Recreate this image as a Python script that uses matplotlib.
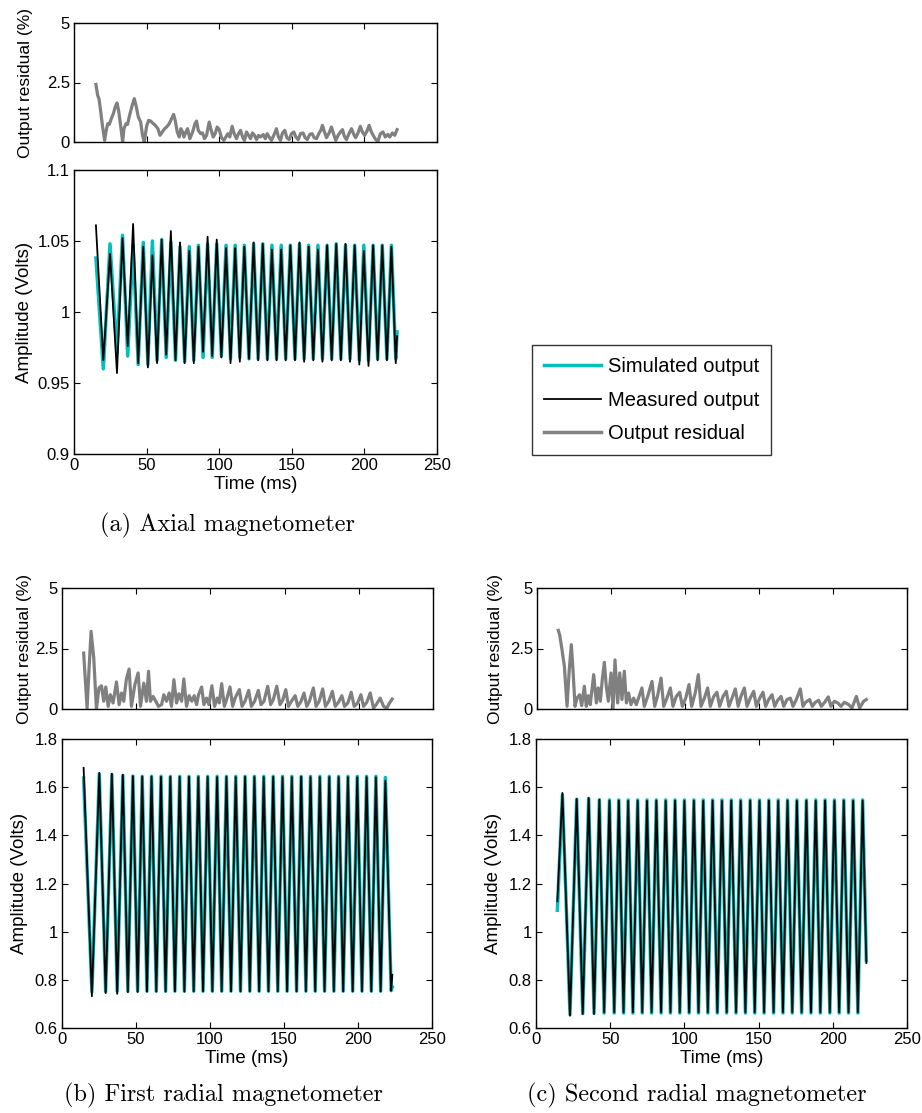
import matplotlib
matplotlib.use('Agg')
import matplotlib.pyplot as plt
from matplotlib.lines import Line2D

plt.rcParams['font.family'] = ['Liberation Sans', 'DejaVu Sans']

CYAN = '#00bfbf'
GRAY = '#808080'

# ---- (a) axial magnetometer: extrema of the amplitude traces
a_t = [15.1, 20.2, 24.8, 29.6, 33.4, 37.0, 40.7, 44.2,
       47.7, 50.9, 54.0, 57.2, 60.4, 63.5, 66.7, 69.9, 73.0, 76.2, 79.4, 82.5, 85.7, 88.9,
       92.0, 95.2, 98.3, 101.5, 104.7, 107.8, 111.0, 114.2, 117.3, 120.5, 123.7, 126.8, 130.0,
       133.2, 136.3, 139.5, 142.7, 145.8, 149.0, 152.2, 155.3, 158.5, 161.6, 164.8, 168.0,
       171.1, 174.3, 177.5, 180.6, 183.8, 187.0, 190.1, 193.3, 196.5, 199.6, 202.8, 206.0,
       209.1, 212.3, 215.5, 218.6,
       221.6, 222.5]
a_meas = [1.061, 0.966, 1.041, 0.957, 1.052, 0.976, 1.062, 0.964,
          1.046, 0.961, 1.040, 0.964, 1.051, 0.970, 1.057, 0.966, 1.049, 0.964, 1.043, 0.964,
          1.046, 0.972, 1.053, 0.969, 1.051, 0.968, 1.045, 0.964, 1.045, 0.965, 1.046, 0.967,
          1.049, 0.966, 1.048, 0.966, 1.044, 0.966, 1.044, 0.966, 1.047, 0.966, 1.049, 0.965,
          1.046, 0.966, 1.044, 0.965, 1.047, 0.966, 1.048, 0.966, 1.048, 0.965, 1.047, 0.963,
          1.043, 0.962, 1.047, 0.966, 1.047, 0.966, 1.046,
          0.964, 0.983]
a_sim = [1.038, 0.960, 1.048, 0.971, 1.054, 0.969, 1.047, 0.963,
         1.049, 0.963, 1.050, 0.966, 1.051, 0.968, 1.049, 0.966, 1.046, 0.965, 1.046, 0.966,
         1.047, 0.968, 1.048, 0.968, 1.048, 0.969, 1.047, 0.967, 1.047, 0.968, 1.047, 0.967,
         1.048, 0.967, 1.048, 0.967, 1.047, 0.967, 1.047, 0.967, 1.047, 0.967, 1.048, 0.967,
         1.047, 0.967, 1.047, 0.967, 1.047, 0.967, 1.048, 0.967, 1.047, 0.967, 1.047, 0.966,
         1.047, 0.966, 1.047, 0.967, 1.047, 0.967, 1.047,
         0.967, 0.986]

ra_t = [15.1, 16.3, 17.2, 18.3, 19.7, 21.1, 22.0, 23.2, 24.3, 25.7,
        27.1, 28.4, 29.6, 30.7, 32.1, 33.5, 34.4, 35.8, 36.9, 38.1,
        39.9, 41.5, 42.7, 44.3, 45.9, 47.2, 48.4, 50.0, 51.4, 52.8,
        54.1, 56.0, 57.8, 59.2, 60.8, 62.4, 63.8, 65.6, 67.2, 68.6,
        69.7, 71.1, 72.5, 73.6, 74.8, 75.7, 77.1, 78.2, 79.8, 81.7,
        83.3, 84.4, 85.6, 87.2, 88.5, 89.9, 91.3, 93.1, 94.5, 95.9,
        97.2, 98.6, 100.0, 101.6, 103.2, 104.6, 106.0, 107.3, 108.9, 110.3,
        111.9, 113.3, 114.7, 116.1, 117.4, 118.8, 120.2, 121.6, 122.9, 124.3,
        125.7, 127.1, 128.4, 130.3, 131.7, 133.0, 134.4, 136.0, 137.6, 139.4,
        140.8, 142.2, 143.6, 145.2, 146.6, 148.2, 149.8, 151.4, 152.8, 154.4,
        156.0, 157.8, 159.2, 160.6, 162.4, 164.0, 165.4, 167.0, 168.6, 170.0,
        171.1, 172.5, 173.9, 175.7, 177.3, 178.7, 180.3, 181.9, 183.5, 184.9,
        186.2, 187.6, 189.4, 191.1, 192.7, 194.0, 195.6, 197.2, 198.6, 200.2,
        201.8, 203.2, 204.8, 206.4, 207.8, 209.4, 211.0, 212.8, 214.4, 216.1,
        217.4, 219.3, 220.9, 222.5]
ra_v = [2.42, 1.96, 1.82, 1.33, 0.63, 0.07, 0.42, 0.77, 0.74, 0.98,
        1.19, 1.47, 1.64, 1.33, 0.70, 0.00, 0.56, 0.77, 0.74, 1.08,
        1.50, 1.82, 1.54, 1.05, 0.84, 0.28, 0.00, 0.66, 0.91, 0.88,
        0.80, 0.70, 0.56, 0.28, 0.42, 0.56, 0.63, 0.77, 0.98, 1.16,
        0.91, 0.42, 0.21, 0.56, 0.42, 0.21, 0.42, 0.56, 0.14, 0.42,
        0.77, 0.88, 0.49, 0.35, 0.38, 0.14, 0.28, 0.84, 0.49, 0.21,
        0.35, 0.63, 0.52, 0.18, 0.07, 0.21, 0.35, 0.21, 0.66, 0.35,
        0.14, 0.35, 0.49, 0.21, 0.07, 0.42, 0.28, 0.14, 0.38, 0.28,
        0.10, 0.28, 0.21, 0.31, 0.14, 0.35, 0.21, 0.07, 0.28, 0.56,
        0.21, 0.07, 0.38, 0.49, 0.18, 0.10, 0.35, 0.42, 0.21, 0.10,
        0.35, 0.38, 0.18, 0.10, 0.32, 0.35, 0.18, 0.14, 0.35, 0.49,
        0.70, 0.42, 0.18, 0.38, 0.63, 0.35, 0.07, 0.28, 0.42, 0.52,
        0.24, 0.10, 0.35, 0.56, 0.32, 0.18, 0.38, 0.66, 0.42, 0.28,
        0.46, 0.70, 0.42, 0.24, 0.10, 0.04, 0.35, 0.42, 0.21, 0.32,
        0.21, 0.38, 0.28, 0.52]

# ---- (b) first radial magnetometer
b_t = [14.6, 20.2, 25.2, 29.5, 33.7, 37.3, 41.1, 44.5,
       47.9, 51.1, 54.2, 57.4, 60.5, 63.7, 66.9, 70.0, 73.2, 76.3, 79.5, 82.7, 85.8, 89.0,
       92.1, 95.3, 98.4, 101.6, 104.8, 107.9, 111.1, 114.2, 117.4, 120.6, 123.7, 126.9, 130.0,
       133.2, 136.3, 139.5, 142.7, 145.8, 149.0, 152.1, 155.3, 158.5, 161.6, 164.8, 167.9,
       171.1, 174.2, 177.4, 180.6, 183.7, 186.9, 190.0, 193.2, 196.4, 199.5, 202.7, 205.8,
       209.0, 212.1, 215.3, 218.5,
       222.4, 223.2]
b_meas = [1.680, 0.732, 1.659, 0.745, 1.656, 0.742, 1.652, 0.749,
          1.646, 0.750, 1.644, 0.751, 1.644, 0.751, 1.643, 0.751, 1.643, 0.752, 1.643, 0.751,
          1.643, 0.752, 1.642, 0.752, 1.643, 0.752, 1.642, 0.752, 1.643, 0.752, 1.642, 0.752,
          1.643, 0.752, 1.642, 0.752, 1.642, 0.752, 1.643, 0.752, 1.642, 0.752, 1.642, 0.752,
          1.643, 0.752, 1.642, 0.752, 1.642, 0.752, 1.642, 0.752, 1.642, 0.752, 1.642, 0.752,
          1.641, 0.752, 1.642, 0.752, 1.641, 0.752, 1.627,
          0.755, 0.821]
b_sim = [1.638, 0.750, 1.655, 0.752, 1.652, 0.753, 1.648, 0.753,
         1.646, 0.753, 1.645, 0.753, 1.645, 0.753, 1.645, 0.753, 1.645, 0.753, 1.645, 0.753,
         1.645, 0.753, 1.645, 0.753, 1.645, 0.753, 1.645, 0.753, 1.645, 0.753, 1.645, 0.753,
         1.645, 0.753, 1.645, 0.753, 1.645, 0.753, 1.645, 0.753, 1.645, 0.753, 1.645, 0.753,
         1.645, 0.753, 1.645, 0.753, 1.645, 0.753, 1.645, 0.753, 1.645, 0.753, 1.645, 0.753,
         1.645, 0.753, 1.645, 0.753, 1.645, 0.753, 1.640,
         0.755, 0.770]

rb_t = [14.6, 16.9, 18.2, 19.6, 21.4, 23.2, 24.9, 26.6, 28.1, 29.5,
        31.1, 32.6, 34.4, 36.7, 38.5, 40.1, 41.6, 43.4, 45.2, 46.8,
        49.1, 51.3, 52.9, 55.1, 56.9, 58.3, 59.6, 61.4, 63.2, 65.0,
        67.1, 68.6, 70.4, 72.2, 73.8, 75.4, 77.2, 78.8, 80.6, 82.1,
        83.9, 85.7, 87.5, 89.1, 90.7, 92.0, 94.1, 95.6, 97.4, 99.0,
        101.0, 102.8, 104.6, 106.0, 107.6, 109.4, 110.9, 113.2, 115.0, 116.6,
        119.5, 121.3, 123.3, 125.8, 127.6, 129.8, 132.3, 134.1, 136.1, 138.6,
        140.6, 142.4, 144.7, 146.9, 148.7, 150.8, 152.6, 154.6, 157.1, 158.9,
        161.1, 163.1, 164.9, 166.7, 169.4, 171.2, 173.3, 175.7, 177.5, 179.8,
        182.2, 184.1, 186.3, 188.6, 190.4, 192.6, 194.9, 196.9, 199.2, 201.4,
        203.2, 205.4, 207.7, 209.9, 211.7, 214.4, 216.7, 218.9, 220.7, 222.5]
rb_v = [2.31, 0.04, 1.63, 3.21, 2.11, 0.00, 0.87, 0.96, 0.32, 0.91,
        0.11, 0.59, 0.25, 1.12, 0.18, 0.66, 0.32, 1.24, 1.65, 0.11,
        1.01, 1.49, 0.11, 1.07, 0.32, 1.56, 0.32, 0.52, 0.32, 0.11,
        0.18, 0.59, 0.32, 0.66, 0.11, 1.21, 0.25, 0.63, 0.32, 1.24,
        0.11, 0.55, 0.32, 0.55, 0.18, 0.59, 0.91, 0.18, 0.45, 0.18,
        0.96, 0.11, 0.45, 0.25, 1.05, 0.11, 0.39, 0.91, 0.11, 0.45,
        0.80, 0.11, 0.32, 0.77, 0.11, 0.32, 0.77, 0.18, 0.32, 0.94,
        0.18, 0.39, 0.94, 0.18, 0.36, 0.80, 0.11, 0.32, 0.55, 0.11,
        0.32, 0.66, 0.11, 0.32, 0.87, 0.11, 0.32, 0.83, 0.11, 0.32,
        0.73, 0.11, 0.28, 0.55, 0.11, 0.25, 0.69, 0.11, 0.25, 0.59,
        0.11, 0.28, 0.66, 0.04, 0.18, 0.45, 0.11, 0.04, 0.25, 0.41]

# ---- (c) second radial magnetometer
c_t = [14.4, 17.8, 22.9, 27.4, 31.5, 35.5, 39.1, 42.7, 45.9,
       49.5, 52.7, 55.8, 59.0, 62.1, 65.3, 68.5, 71.6, 74.8, 77.9, 81.1, 84.3, 87.4, 90.6,
       93.7, 96.9, 100.0, 103.2, 106.4, 109.5, 112.7, 115.8, 119.0, 122.2, 125.3, 128.5, 131.6,
       134.8, 137.9, 141.1, 144.3, 147.4, 150.6, 153.7, 156.9, 160.1, 163.2, 166.4, 169.5,
       172.7, 175.8, 179.0, 182.2, 185.3, 188.5, 191.6, 194.8, 198.0, 201.1, 204.3, 207.4,
       210.6, 213.7, 216.9, 220.1,
       222.6]
c_meas = [1.126, 1.576, 0.651, 1.551, 0.658, 1.555, 0.658, 1.548, 0.665,
          1.544, 0.665, 1.544, 0.665, 1.543, 0.665, 1.544, 0.665, 1.543, 0.665, 1.544, 0.665,
          1.543, 0.665, 1.544, 0.665, 1.543, 0.665, 1.544, 0.665, 1.543, 0.665, 1.544, 0.665,
          1.543, 0.665, 1.544, 0.665, 1.543, 0.665, 1.544, 0.665, 1.543, 0.665, 1.544, 0.665,
          1.543, 0.665, 1.544, 0.665, 1.543, 0.665, 1.544, 0.665, 1.543, 0.665, 1.544, 0.665,
          1.543, 0.665, 1.544, 0.665, 1.543, 0.665, 1.544,
          0.870]
c_sim = [1.089, 1.568, 0.656, 1.550, 0.660, 1.553, 0.661, 1.548, 0.662,
         1.547, 0.662, 1.547, 0.662, 1.547, 0.662, 1.547, 0.662, 1.547, 0.662, 1.547, 0.662,
         1.547, 0.662, 1.547, 0.662, 1.547, 0.662, 1.547, 0.662, 1.547, 0.662, 1.547, 0.662,
         1.547, 0.662, 1.547, 0.662, 1.547, 0.662, 1.547, 0.662, 1.547, 0.662, 1.547, 0.662,
         1.547, 0.662, 1.547, 0.662, 1.547, 0.662, 1.547, 0.662, 1.547, 0.662, 1.547, 0.662,
         1.547, 0.662, 1.547, 0.662, 1.547, 0.662, 1.547,
         0.880]

rc_t = [14.4, 15.3, 16.9, 18.5, 20.3, 21.8, 23.2, 24.3, 25.7, 27.0,
        28.8, 30.2, 32.0, 33.3, 34.7, 36.0, 38.3, 40.1, 41.4, 42.8,
        44.1, 45.5, 46.8, 48.2, 50.0, 51.4, 52.7, 54.5, 55.9, 57.4,
        59.0, 60.4, 61.9, 63.5, 65.3, 67.1, 70.9, 72.5, 74.8, 77.7,
        79.5, 81.5, 83.8, 85.6, 87.8, 90.1, 91.9, 94.1, 96.4, 98.2,
        100.5, 102.7, 104.5, 107.0, 109.0, 110.8, 113.1, 115.3, 117.1, 119.4,
        121.6, 123.4, 125.7, 127.9, 129.7, 131.8, 134.0, 135.9, 137.8, 140.1,
        141.9, 144.1, 146.4, 148.2, 150.5, 152.7, 154.5, 156.5, 158.8, 160.6,
        162.6, 164.9, 166.7, 168.9, 171.2, 173.0, 175.2, 177.9, 179.7, 181.5,
        184.2, 186.0, 188.1, 190.3, 192.1, 194.4, 196.8, 198.6, 200.9, 203.2,
        205.4, 207.7, 210.6, 212.8, 215.8, 218.0, 220.7, 222.5]
rc_v = [3.25, 3.07, 2.45, 1.76, 0.11, 1.63, 2.66, 1.63, 0.11, 0.45,
        0.59, 0.14, 0.94, 0.11, 0.55, 0.18, 1.42, 0.25, 0.87, 0.32,
        1.21, 1.93, 0.94, 0.32, 1.49, 0.00, 2.03, 0.25, 1.49, 0.39,
        1.56, 0.25, 0.66, 0.18, 0.45, 0.18, 0.87, 0.11, 0.52, 1.14,
        0.11, 0.55, 1.28, 0.11, 0.45, 0.87, 0.11, 0.52, 0.69, 0.11,
        0.45, 1.01, 0.11, 0.69, 1.42, 0.11, 0.45, 0.87, 0.11, 0.52,
        0.69, 0.11, 0.52, 0.73, 0.11, 0.45, 0.83, 0.11, 0.52, 0.87,
        0.11, 0.45, 0.73, 0.11, 0.45, 0.69, 0.11, 0.39, 0.59, 0.11,
        0.36, 0.52, 0.11, 0.39, 0.45, 0.11, 0.39, 0.83, 0.11, 0.28,
        0.39, 0.11, 0.28, 0.36, 0.11, 0.28, 0.50, 0.11, 0.32, 0.25,
        0.11, 0.28, 0.18, 0.04, 0.52, 0.04, 0.32, 0.39]

W, H = 922, 1113
fig = plt.figure(figsize=(W / 100, H / 100), dpi=100)


def box(l, t, r, b):
    return [l / W, 1 - b / H, (r - l) / W, (b - t) / H]


def style(ax):
    ax.tick_params(direction='in', top=True, right=True, length=4, width=0.8,
                   labelsize=12, pad=3)
    for s in ax.spines.values():
        s.set_linewidth(1.0)
    ax.set_xlim(0, 250)
    ax.set_xticks([0, 50, 100, 150, 200, 250])


def fmt(v):
    return ('%g' % v)


def panel(res_box, amp_box, rt, rv, t, meas, sim, ylim, yticks, lab_x, caption, cap_x, cap_y):
    ax1 = fig.add_axes(box(*res_box))
    ax1.plot(rt, rv, color=GRAY, lw=2.3)
    style(ax1)
    ax1.set_ylim(0, 5)
    ax1.set_yticks([0, 2.5, 5])
    ax1.set_yticklabels(['0', '2.5', '5'])
    ax1.set_xticklabels([])
    ax1.set_ylabel('Output residual (%)', fontsize=12.5)
    w1 = res_box[2] - res_box[0]
    ax1.yaxis.set_label_coords((lab_x[0] - res_box[0]) / w1, 0.5)

    ax2 = fig.add_axes(box(*amp_box))
    ax2.plot(t, sim, color=CYAN, lw=2.5)
    ax2.plot(t, meas, color='black', lw=1.3)
    style(ax2)
    ax2.set_ylim(*ylim)
    ax2.set_yticks(yticks)
    ax2.set_yticklabels([fmt(v) for v in yticks])
    ax2.set_xticklabels(['0', '50', '100', '150', '200', '250'])
    ax2.set_xlabel('Time (ms)', fontsize=13.5, labelpad=2)
    ax2.set_ylabel('Amplitude (Volts)', fontsize=13.5)
    w2 = amp_box[2] - amp_box[0]
    ax2.yaxis.set_label_coords((lab_x[1] - amp_box[0]) / w2, 0.5)
    fig.text(cap_x / W, 1 - cap_y / H, caption, family='cmr10', fontsize=17.5,
             ha='center', va='center')
    return ax1, ax2


a1, a2 = panel((74, 23, 437, 142), (74, 170, 437, 454), ra_t, ra_v, a_t, a_meas, a_sim,
               (0.9, 1.1), [0.9, 0.95, 1.0, 1.05, 1.1], (33, 33),
               '(a) Axial magnetometer', 227, 525)
b1, b2 = panel((62, 588, 433, 709), (62, 739, 432, 1028), rb_t, rb_v, b_t, b_meas, b_sim,
               (0.6, 1.8), [0.6, 0.8, 1.0, 1.2, 1.4, 1.6, 1.8], (32, 28),
               '(b) First radial magnetometer', 223, 1095)
c1, c2 = panel((537, 588, 907, 709), (536, 739, 907, 1028), rc_t, rc_v, c_t, c_meas, c_sim,
               (0.6, 1.8), [0.6, 0.8, 1.0, 1.2, 1.4, 1.6, 1.8], (503, 502),
               '(c) Second radial magnetometer', 697, 1095)

handles = [Line2D([], [], color=CYAN, lw=2.5),
           Line2D([], [], color='black', lw=1.3),
           Line2D([], [], color=GRAY, lw=2.5)]
leg = fig.legend(handles, ['Simulated output', 'Measured output', 'Output residual'],
                 loc='upper left', bbox_to_anchor=(532 / W, 1 - 345 / H),
                 fontsize=14.5, frameon=True, fancybox=False, handlelength=2.85,
                 handletextpad=0.3, labelspacing=0.72, borderpad=0.6, borderaxespad=0)
leg.get_frame().set_edgecolor('black')
leg.get_frame().set_linewidth(1.0)

fig.savefig('out.png', dpi=100)
